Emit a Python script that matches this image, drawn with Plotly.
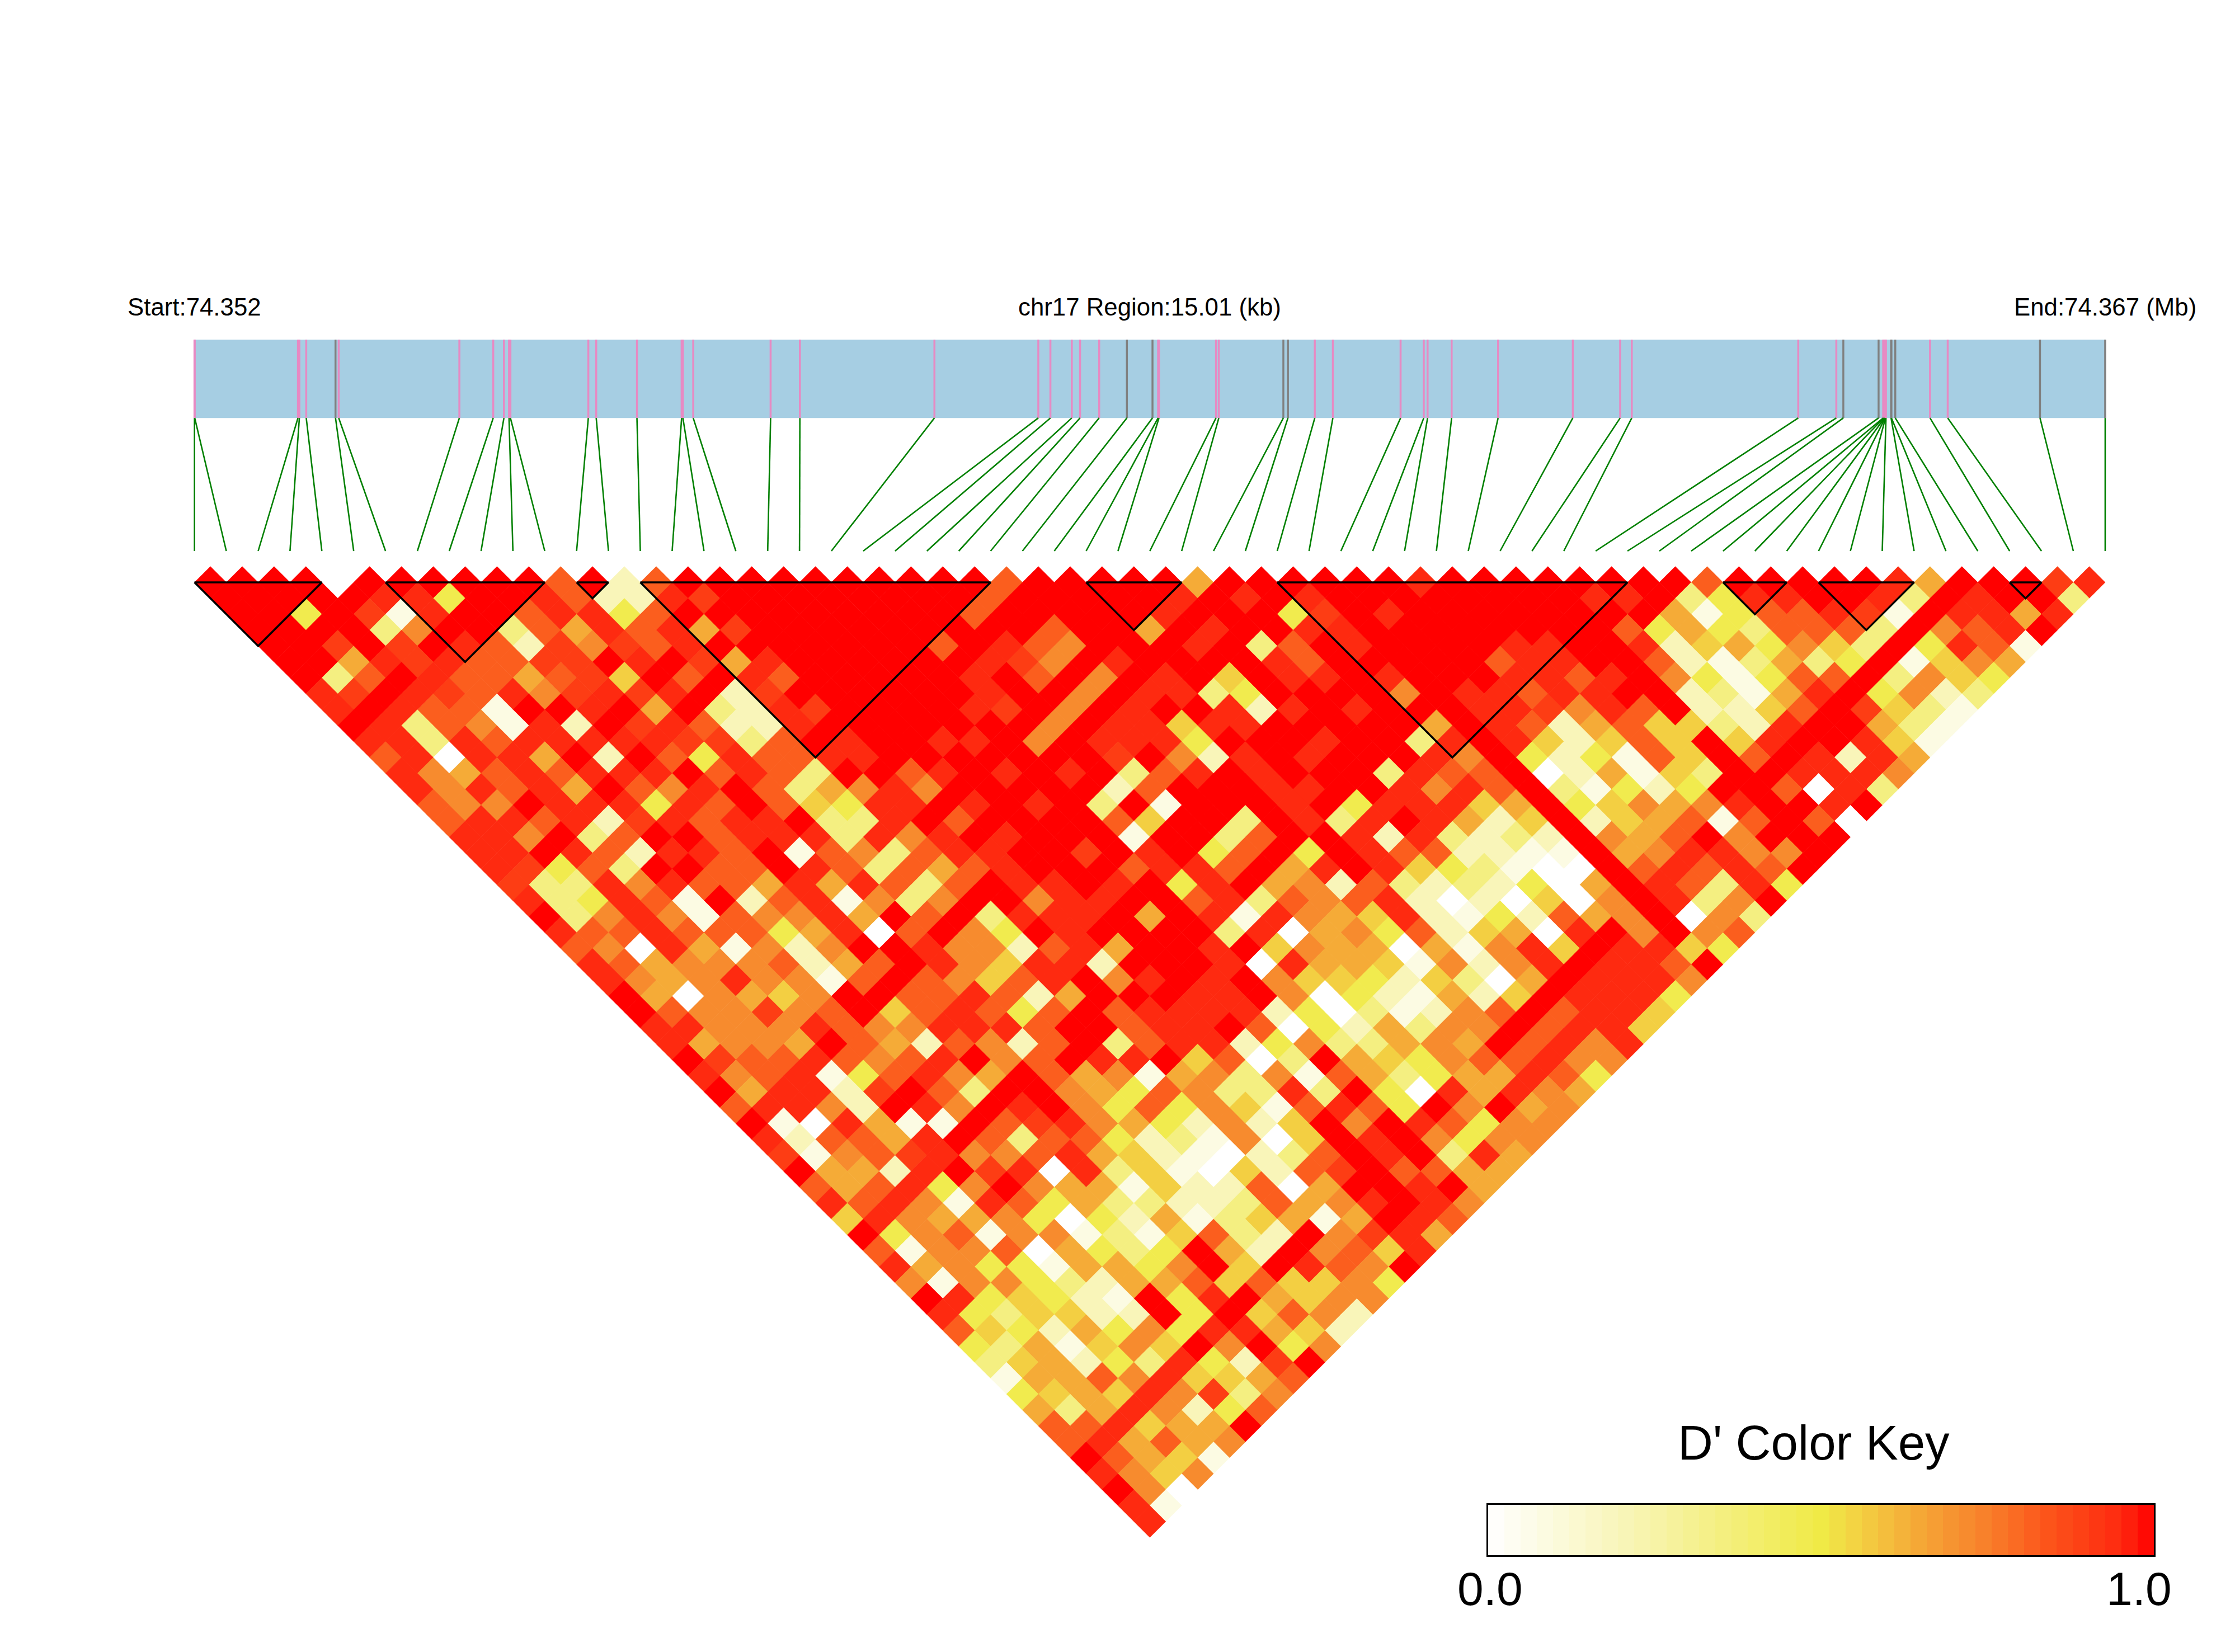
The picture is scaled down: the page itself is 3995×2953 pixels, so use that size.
import plotly.graph_objects as go

# D', one string per row of the triangle (row d = j-i-1), grouped in tens
level_values = {"0": 0.0, "1": 0.08, "2": 0.2, "3": 0.35, "4": 0.48, "5": 0.56, "6": 0.64,
                "7": 0.72, "8": 0.82, "9": 0.9, "a": 0.95, "b": 1.0}
ld_rows = [
    "bbbb0bbbbb b8b28bbbbb bbbbb8bbbb b6bbbbbbab bbbbbbb8bb bbba6bbb9a",
    "bbbbbaa4bb a822a9bbbb bbbb8bbbbb ababab bbbb bbbaab34aa bba3babb3",
    "bb4b91abb8 aa48bbbbbb bbb8bbbbba bbb49babbb bbbbb61488 a91baa6a",
    "bbbb37bb38 6a8a69bbbb bbbbb8bb6b abbaabbbbb bbb8464388 83b78ab",
    "bb9b9ba829 798abbbbbb b8ba87bbba b38babbbba abba256475 3b4a81",
    "bb6a9a8899 bab96abbbb bba97babbb ba8bbbbb8a abb8213634 b1576",
    "b38ba88689 5b8ba8bbbb bab8b7bab5 baababbbaa 8ab741488b 3754",
    "a9ba98a79a 9ab29bbbbb babb7baa34 bbbb7baa8a abb2316ab4 723",
    "aba881bbab 6b32a9bbbb a9b7babba2 ababbbaa97 a8b2258b95 31",
    "ba3871a2b9 a822abbbbb bb7baa5aab bbbb6ba826 85532abb63 1",
    "aa3a8aaaaa 9938babbaa b7baaa4bbb abb3aba525 85b5abba51",
    "8a0aa6b2b8 4a88aabbbb bbb9b72aba bbba7b4241 85b8ba2a6",
    "a768a8aaab 8a83bb8aba bab38ababb b3a88b0261 53bbaaa7",
    "a7a8a6b87a b8367a7bbb bb28bbbaab ba7a8b3142 4bb80a3",
    "877baaa4a8 b854aababa b3b1bbbab4 aaa56b4576 7abbab",
    "8aa8a29a8a ab33ab8bbb b85bb3ba3a ba625b2568 18b80",
    "aa7b38bb8a aa3a7ababb b1bb38bba2 a3232b768b 7bbb",
    "aaba82aa8b 18738aabb9 bab48b4ba8 82211b67aa 77b",
    "a9483bb88b a83868abbb 8aa8b6aba5 43100b8a8a 8b",
    "933a7a886a 6a838baaba b4ab672832 32406ba83a 4",
    "a34a81b28a 1737bb7aab b8a3878a20 20507ba37b",
    "b37a71877a 6b8b3aaab6 ba1a765a21 42867b073",
    "a88a88846a 08b74babbb b3a0674825 60ab7b78",
    "870a61727b ba7728a6bb ab57660617 a5baa54",
    "a867778268 ba75aa2bbb a0a6651727 abaa8b",
    "a767a7718b 8758ab7aba b755425306 baaa7",
    "b607657bb8 8a826bbbaa b70421625b aaa4",
    "b877978b58 a848b8aaaa 24031278b8 aa5",
    "aa777a877a aa8bb8aab8 0426377b8a a5",
    "a6776b8628 728b38aa24 733676b8a7 a",
    "b988a878ab 78baab5803 b654788a77",
    "a78a148a76 b867167371 863466a84",
    "b6aa29b83b b7648733a3 b40a6a76",
    "8aa72ba7ba b74847518a 84b7b67",
    "b10a611b89 a7642725b7 ba8477",
    "a2886ab838 84231705ba b7477",
    "91789a778a 65210238ba b3a6",
    "b662ab9a0a 35105289b8 866",
    "868a47b766 1522806bba b6",
    "a8a71a8463 3223867aba 7",
    "5a76674042 6135616ba8",
    "b478177131 5832b79a6",
    "8177806434 b62b785a",
    "a674416647 b5ba87b",
    "7177432668 585574",
    "ba45421b4a b6577",
    "a435522b4b 5872",
    "85426474aa 652",
    "4361575b7b 47",
    "356243a429 b",
    "16687a5568",
    "4565a7937",
    "636a7248",
    "88a566b",
    "8a6867",
    "b8651",
    "a757",
    "b70",
    "a1",
    "a",
]

# SNP positions along the region, kb from the start
region_kb = 15.01
snp_kb = [0.0, 0.002, 0.813, 0.824, 0.878, 1.108, 1.133, 2.081, 2.347, 2.431, 2.471, 2.482, 3.094,
          3.156, 3.476, 3.827, 3.837, 3.918, 4.526, 4.756, 5.813, 6.629, 6.724, 6.892, 6.957, 7.107,
          7.325, 7.526, 7.570, 7.577, 8.025, 8.047, 8.554, 8.590, 8.801, 8.943, 9.475, 9.657, 9.687,
          9.876, 10.241, 10.828, 11.200, 11.291, 12.599, 12.898, 12.953, 13.230, 13.266, 13.270,
          13.277, 13.281, 13.284, 13.288, 13.328, 13.331, 13.361, 13.634, 13.773, 14.498, 15.01]
grey_snps = [5, 26, 27, 32, 33, 46, 47, 54, 55, 56, 59, 60]

# LD blocks as (first SNP, last SNP)
blocks = [(0, 4), (6, 11), (12, 13), (14, 25), (28, 31), (34, 45), (48, 50), (51, 54), (57, 58)]

colorscale = [[0, "#ffffff"], [0.25, "#f7f3a8"], [0.5, "#f0ea46"], [0.55, "#f3d343"], [0.65, "#f5a636"],
              [0.75, "#f87f2a"], [0.85, "#fc5019"], [0.95, "#fe2a10"], [1, "#ff0000"]]
key_steps = 41

n_snps = len(snp_kb)
step = region_kb / (n_snps - 1)
even_x = [k * step for k in range(n_snps)]

cell_x, cell_y, cell_z = [], [], []
for d, row in enumerate(ld_rows):
    row = row.replace(" ", "")
    if len(row) != n_snps - 1 - d:
        print("row", d, "has", len(row), "cells")
    row = row[:n_snps - 1 - d].ljust(n_snps - 1 - d, "b")
    for i, code in enumerate(row):
        j = i + d + 1
        cell_x.append((even_x[i] + even_x[j]) / 2)
        cell_y.append(d)
        cell_z.append(level_values[code])

track_top, track_bottom, link_bottom = -15.25, -10.33, -1.97

fig = go.Figure()
fig.add_shape(type="rect", x0=0, x1=region_kb, y0=track_top, y1=track_bottom,
              fillcolor="#a6cee3", line_width=0, layer="below")


def ticks(indices, color):
    xs, ys = [], []
    for k in indices:
        xs += [snp_kb[k], snp_kb[k], None]
        ys += [track_top, track_bottom, None]
    fig.add_trace(go.Scatter(x=xs, y=ys, mode="lines", line=dict(color=color, width=3.5), hoverinfo="skip"))


ticks([k for k in range(n_snps) if k not in grey_snps], "#e78ac3")
ticks(grey_snps, "#808080")

link_x, link_y = [], []
for k in range(n_snps):
    link_x += [snp_kb[k], even_x[k], None]
    link_y += [track_bottom, link_bottom, None]
fig.add_trace(go.Scatter(x=link_x, y=link_y, mode="lines", line=dict(color="#008000", width=2.6), hoverinfo="skip"))

fig.add_trace(go.Scatter(x=cell_x, y=cell_y, mode="markers", hoverinfo="skip",
                         marker=dict(symbol="diamond", size=44.3, color=cell_z, cmin=0, cmax=1,
                                     colorscale=colorscale, line_width=0)))

block_x, block_y = [], []
for a, b in blocks:
    block_x += [even_x[a], even_x[b], (even_x[a] + even_x[b]) / 2, even_x[a], None]
    block_y += [0, 0, b - a, 0, None]
fig.add_trace(go.Scatter(x=block_x, y=block_y, mode="lines", line=dict(color="black", width=3.5), hoverinfo="skip"))

# colour key
key_x = [(k + 0.5) / key_steps for k in range(key_steps)]
fig.add_trace(go.Heatmap(x=key_x, y=[0], z=[[(k + 0.5) / key_steps for k in range(key_steps)]], zmin=0, zmax=1,
                         colorscale=colorscale, showscale=False, xaxis="x2", yaxis="y2", hoverinfo="skip"))

label_font = dict(family="Liberation Sans", color="black", size=43.8)
key_font = dict(family="Liberation Sans", color="black", size=84)
title_font = dict(family="Liberation Sans", color="black", size=87)
annotations = [
    dict(x=0, y=-17.3, xref="x", yref="y", text="Start:74.352", showarrow=False, font=label_font),
    dict(x=region_kb / 2, y=-17.3, xref="x", yref="y", text="chr17 Region:15.01 (kb)", showarrow=False, font=label_font),
    dict(x=region_kb, y=-17.3, xref="x", yref="y", text="End:74.367 (Mb)", showarrow=False, font=label_font),
    dict(x=0.489, y=1 - 2578 / 2953, xref="x2", yref="paper", yanchor="middle", text="D' Color Key", showarrow=False, font=title_font),
    dict(x=0.003, y=1 - 2840 / 2953, xref="x2", yref="paper", yanchor="middle", text="0.0", showarrow=False, font=key_font),
    dict(x=0.9775, y=1 - 2840 / 2953, xref="x2", yref="paper", yanchor="middle", text="1.0", showarrow=False, font=key_font),
]

fig.update_layout(
    width=3995, height=2953, margin=dict(l=0, r=0, t=0, b=0), showlegend=False,
    plot_bgcolor="white", paper_bgcolor="white", annotations=annotations,
    xaxis=dict(range=[-1.5277, 16.0299], visible=False, domain=[0, 1]),
    yaxis=dict(range=[67.2, -36.59], visible=False, domain=[0, 1]),
    xaxis2=dict(range=[0, 1], domain=[2660 / 3995, 3850 / 3995], anchor="y2", showticklabels=False, ticks="",
                showgrid=False, zeroline=False, showline=True, linecolor="black", linewidth=3, mirror=True),
    yaxis2=dict(range=[-0.5, 0.5], domain=[1 - 2780 / 2953, 1 - 2690 / 2953], anchor="x2", showticklabels=False, ticks="",
                showgrid=False, zeroline=False, showline=True, linecolor="black", linewidth=3, mirror=True),
)

fig.write_html("out.html", config={"displayModeBar": False},
               post_script="document.body.style.margin='0';")
